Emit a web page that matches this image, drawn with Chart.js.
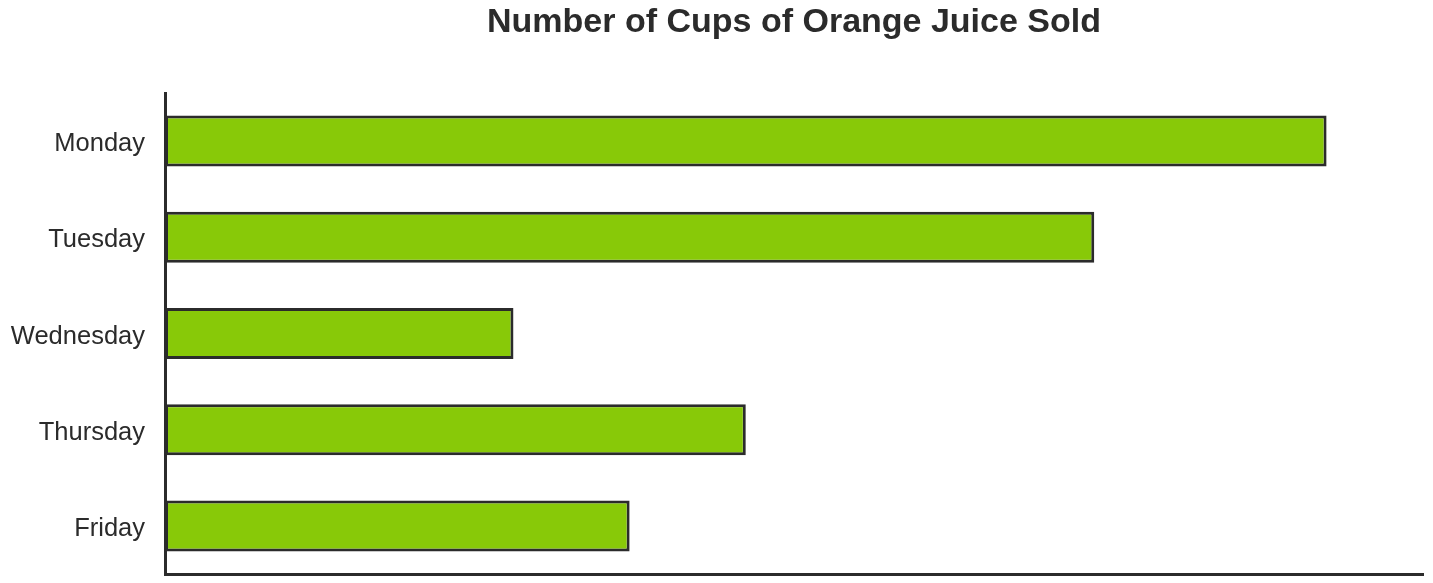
<!DOCTYPE html>
<html>
<head>
<meta charset="utf-8">
<script src="https://cdn.jsdelivr.net/npm/chart.js@4"></script>
<style>
html,body{margin:0;padding:0;background:#fff;}
#wrap{width:1433px;height:583px;position:relative;}
</style>
</head>
<body>
<div id="wrap"><canvas id="c"></canvas></div>
<script>
const categories = ["Monday", "Tuesday", "Wednesday", "Thursday", "Friday"];
const cupsSold = [10, 8, 3, 5, 4];
const axisMax = 10.83;
const chartTitle = "Number of Cups of Orange Juice Sold";

const titlePlugin = {
  id: 'areaTitle',
  afterDraw(chart) {
    const ctx = chart.ctx;
    const a = chart.chartArea;
    ctx.save();
    ctx.font = 'bold 34px "Liberation Sans", Arial, sans-serif';
    ctx.fillStyle = '#2b2b2b';
    ctx.textAlign = 'center';
    ctx.textBaseline = 'alphabetic';
    ctx.fillText(chartTitle, (a.left + a.right) / 2, 32);
    ctx.restore();
  }
};

new Chart(document.getElementById('c'), {
  type: 'bar',
  data: {
    labels: categories,
    datasets: [{
      data: cupsSold,
      backgroundColor: '#88c908',
      borderColor: '#2b2b2b',
      borderWidth: 3,
      borderSkipped: false,
      categoryPercentage: 1,
      barPercentage: 0.53
    }]
  },
  options: {
    indexAxis: 'y',
    responsive: true,
    maintainAspectRatio: false,
    animation: false,
    layout: { padding: { top: 93, right: 10, bottom: 9, left: 0 } },
    plugins: { legend: { display: false }, tooltip: { enabled: false }, title: { display: false } },
    scales: {
      x: {
        min: 0,
        max: axisMax,
        ticks: { display: false, padding: 0 },
        grid: { display: false, drawTicks: false },
        border: { display: true, color: '#2b2b2b', width: 3 },
        afterFit(scale) { scale.height = 0; scale.paddingLeft = 0; scale.paddingRight = 0; }
      },
      y: {
        ticks: {
          color: '#2b2b2b',
          font: { family: '"Liberation Sans", Arial, sans-serif', size: 25.5 },
          padding: 20,
          labelOffset: 3
        },
        grid: { display: false, drawTicks: false },
        border: { display: true, color: '#2b2b2b', width: 3 },
        afterFit(scale) { scale.width = 165; scale.paddingTop = 0; scale.paddingBottom = 0; }
      }
    }
  },
  plugins: [titlePlugin]
});
</script>
</body>
</html>
